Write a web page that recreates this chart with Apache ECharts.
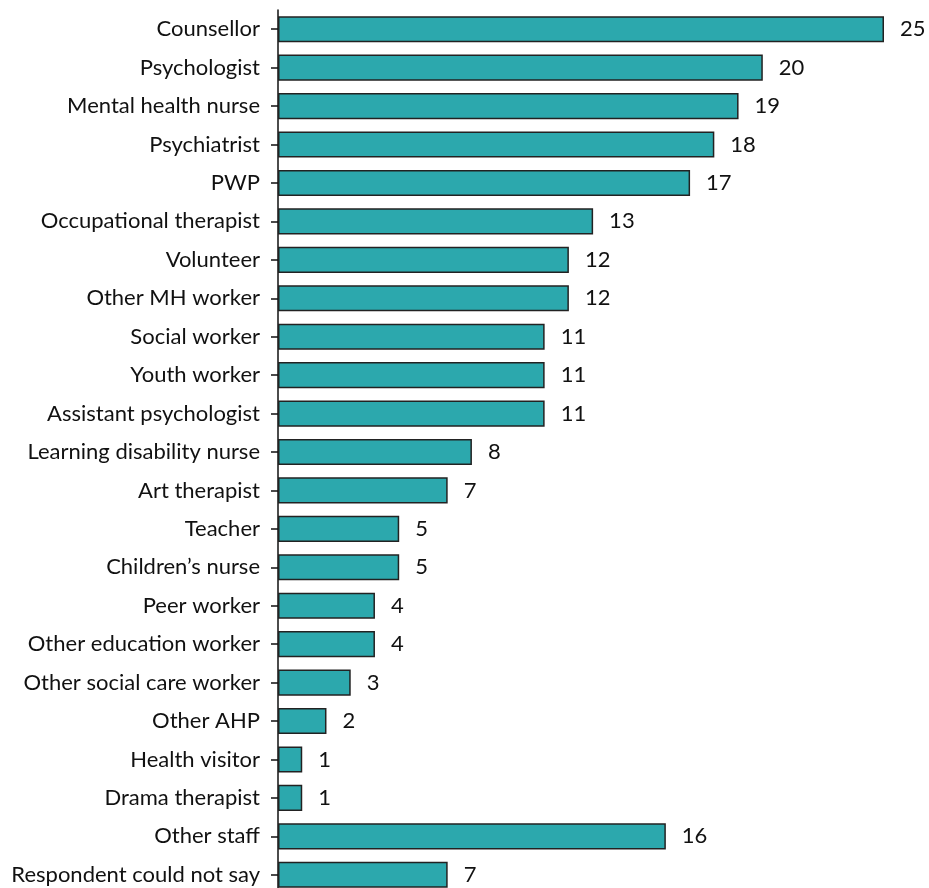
<!DOCTYPE html>
<html>
<head>
<meta charset="utf-8">
<script src="https://cdn.jsdelivr.net/npm/echarts@6/dist/echarts.min.js"></script>
<style>
  html, body { margin: 0; padding: 0; background: #fff; }
  #chart { width: 929px; height: 888px; }
</style>
</head>
<body>
<div id="chart"></div>
<script>
// Staff roles reported, with counts
const roles = [
  'Counsellor', 'Psychologist', 'Mental health nurse', 'Psychiatrist', 'PWP',
  'Occupational therapist', 'Volunteer', 'Other MH worker', 'Social worker',
  'Youth worker', 'Assistant psychologist', 'Learning disability nurse',
  'Art therapist', 'Teacher', 'Children\u2019s nurse', 'Peer worker',
  'Other education worker', 'Other social care worker', 'Other AHP',
  'Health visitor', 'Drama therapist', 'Other staff', 'Respondent could not say'
];
const counts = [25, 20, 19, 18, 17, 13, 12, 12, 11, 11, 11, 8, 7, 5, 5, 4, 4, 3, 2, 1, 1, 16, 7];

const chart = echarts.init(document.getElementById('chart'));
chart.setOption({
  animation: false,
  textStyle: { fontFamily: 'Lato' },
  grid: { left: 278, right: 45, top: 10, height: 884, containLabel: false, outerBoundsMode: 'none' },
  xAxis: {
    type: 'value', min: 0, max: 25, show: false
  },
  yAxis: {
    type: 'category',
    data: roles,
    inverse: true,
    axisLine: { show: true, lineStyle: { color: '#111', width: 1.5 } },
    axisTick: {
      show: true, alignWithLabel: true, interval: 0, inside: false, length: 7,
      lineStyle: { color: '#111', width: 1.5 }
    },
    axisLabel: { interval: 0, color: '#111', fontSize: 22, margin: 18, fontFamily: 'Lato' }
  },
  series: [{
    type: 'bar',
    data: counts,
    barCategoryGap: '32%',
    itemStyle: { color: '#2ca8ad', borderColor: '#222', borderWidth: 1.5 },
    label: {
      show: true, position: 'right', distance: 16,
      color: '#111', fontSize: 22, fontFamily: 'Lato'
    }
  }]
});
</script>
</body>
</html>
